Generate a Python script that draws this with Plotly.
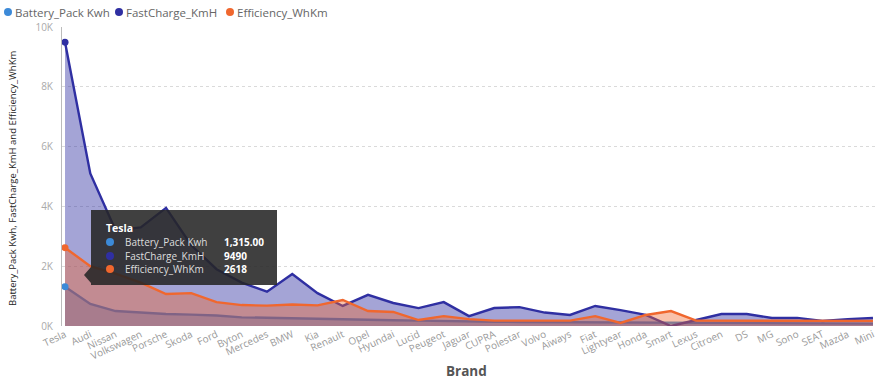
import plotly.graph_objects as go

brands = ["Tesla", "Audi", "Nissan", "Volkswagen", "Porsche", "Skoda", "Ford", "Byton",
          "Mercedes", "BMW", "Kia", "Renault", "Opel", "Hyundai", "Lucid", "Peugeot",
          "Jaguar", "CUPRA", "Polestar", "Volvo", "Aiways", "Fiat", "Lightyear", "Honda",
          "Smart", "Lexus", "Citroen", "DS", "MG", "Sono", "SEAT", "Mazda", "Mini"]

battery_kwh = [1315, 740, 500, 440, 400, 380, 350, 290, 270, 250, 240, 220, 200, 190, 180, 160,
               150, 140, 135, 130, 125, 120, 115, 110, 105, 100, 95, 95, 90, 90, 85, 85, 80]

fastcharge_kmh = [9490, 5100, 3200, 3300, 3950, 2700, 1900, 1450, 1150, 1740, 1100, 670, 1040, 770, 600, 800,
                  330, 600, 630, 450, 370, 670, 530, 370, 0, 200, 400, 400, 270, 270, 170, 230, 270]

efficiency_whkm = [2618, 2000, 1750, 1450, 1070, 1100, 800, 700, 680, 720, 690, 870, 500, 470, 200, 330,
                   230, 180, 180, 190, 180, 330, 100, 370, 500, 180, 180, 180, 180, 170, 160, 180, 170]

series_names = ["Battery_Pack Kwh", "FastCharge_KmH", "Efficiency_WhKm"]
line_colors = ["#3C8AD8", "#2F2FA2", "#F0672E"]
fill_colors = ["rgba(60,138,216,0.40)", "rgba(47,47,162,0.44)", "rgba(240,103,46,0.40)"]
y_ticks = [0, 2000, 4000, 6000, 8000, 10000]
y_tick_labels = ["0K", "2K", "4K", "6K", "8K", "10K"]

W, H = 876, 379
L, R, T, B = 62, 876, 27, 326


def px(x):
    return (x - L) / (R - L)


def py(y):
    return (B - y) / (B - T)


FONT = "Open Sans"
fig = go.Figure()
all_series = [battery_kwh, fastcharge_kmh, efficiency_whkm]
for name, vals, lc, fc in zip(series_names, all_series, line_colors, fill_colors):
    fig.add_trace(go.Scatter(x=brands, y=vals, name=name, mode="lines", fill="tozeroy",
                             line=dict(color=lc, width=2.4), fillcolor=fc, showlegend=False,
                             hoverinfo="skip"))
# highlighted (hovered) Tesla points
for name, vals, lc in zip(series_names, all_series, line_colors):
    fig.add_trace(go.Scatter(x=[brands[0]], y=[vals[0]], mode="markers",
                             marker=dict(color=lc, size=7), showlegend=False, hoverinfo="skip"))

shapes = []
annotations = []

# legend (manual)
leg_x = [8, 119, 230]
for (lx, name, lc) in zip(leg_x, series_names, line_colors):
    shapes.append(dict(type="circle", xref="paper", yref="paper",
                       x0=px(lx - 4), x1=px(lx + 4), y0=py(12 + 4), y1=py(12 - 4),
                       fillcolor=lc, line=dict(width=0)))
    annotations.append(dict(text=name, xref="paper", yref="paper", x=px(lx + 5), y=py(12),
                            xanchor="left", yanchor="middle", showarrow=False,
                            font=dict(family=FONT, size=11.5, color="#666")))

# axis titles
annotations.append(dict(text="Battery_Pack Kwh, FastCharge_KmH and Efficiency_WhKm", xref="paper", yref="paper",
                        x=px(12), y=py(178), textangle=-90, showarrow=False, xanchor="center", yanchor="middle",
                        font=dict(family=FONT, size=9.5, color="#222")))
annotations.append(dict(text="<b>Brand</b>", xref="paper", yref="paper", x=px(466), y=py(371), showarrow=False,
                        xanchor="center", yanchor="middle",
                        font=dict(family=FONT, size=13.5, color="#555")))

# tooltip
tx0, tx1, ty0, ty1 = 91, 277, 210, 285
shapes.append(dict(type="rect", xref="paper", yref="paper", x0=px(tx0), x1=px(tx1), y0=py(ty1), y1=py(ty0),
                   fillcolor="rgba(38,38,38,0.88)", line=dict(width=0), layer="above"))
shapes.append(dict(type="path", xref="paper", yref="paper",
                   path=f"M {px(91)},{py(267)} L {px(84)},{py(275)} L {px(91)},{py(283)} Z",
                   fillcolor="rgba(38,38,38,0.88)", line=dict(width=0), layer="above"))
annotations.append(dict(text="<b>" + brands[0] + "</b>", xref="paper", yref="paper", x=px(104), y=py(228),
                        xanchor="left", yanchor="middle", showarrow=False,
                        font=dict(family=FONT, size=10.5, color="white")))
tip_values = [f"{battery_kwh[0]:,.2f}", f"{fastcharge_kmh[0]}", f"{efficiency_whkm[0]}"]
row_y = [242, 256, 269]
for ry, name, lc, val in zip(row_y, series_names, line_colors, tip_values):
    shapes.append(dict(type="circle", xref="paper", yref="paper",
                       x0=px(106), x1=px(114), y0=py(ry + 4), y1=py(ry - 4),
                       fillcolor=lc, line=dict(width=0), layer="above"))
    annotations.append(dict(text=name, xref="paper", yref="paper", x=px(123), y=py(ry),
                            xanchor="left", yanchor="middle", showarrow=False,
                            font=dict(family=FONT, size=10, color="#ddd")))
    annotations.append(dict(text="<b>" + val + "</b>", xref="paper", yref="paper", x=px(222), y=py(ry),
                            xanchor="left", yanchor="middle", showarrow=False,
                            font=dict(family=FONT, size=10, color="white")))

fig.update_layout(
    width=W, height=H,
    margin=dict(l=L, r=W - R, t=T, b=H - B, autoexpand=False),
    paper_bgcolor="white", plot_bgcolor="white",
    showlegend=False,
    shapes=shapes, annotations=annotations,
    font=dict(family=FONT),
)
fig.update_xaxes(type="category", range=[-0.12, 32.12], tickangle=-25, showgrid=False,
                 tickfont=dict(family=FONT, size=10, color="#999"), ticks="", showline=False,
                 automargin=False)
fig.update_yaxes(range=[0, 10000], tickvals=y_ticks, ticktext=y_tick_labels, showgrid=True,
                 gridcolor="#dadada", griddash="dot", gridwidth=1, zeroline=False,
                 showline=True, linecolor="#bbb", linewidth=1,
                 tickfont=dict(family=FONT, size=10, color="#aaa"), automargin=False, ticklabelstandoff=6)

fig.write_html("out.html")
